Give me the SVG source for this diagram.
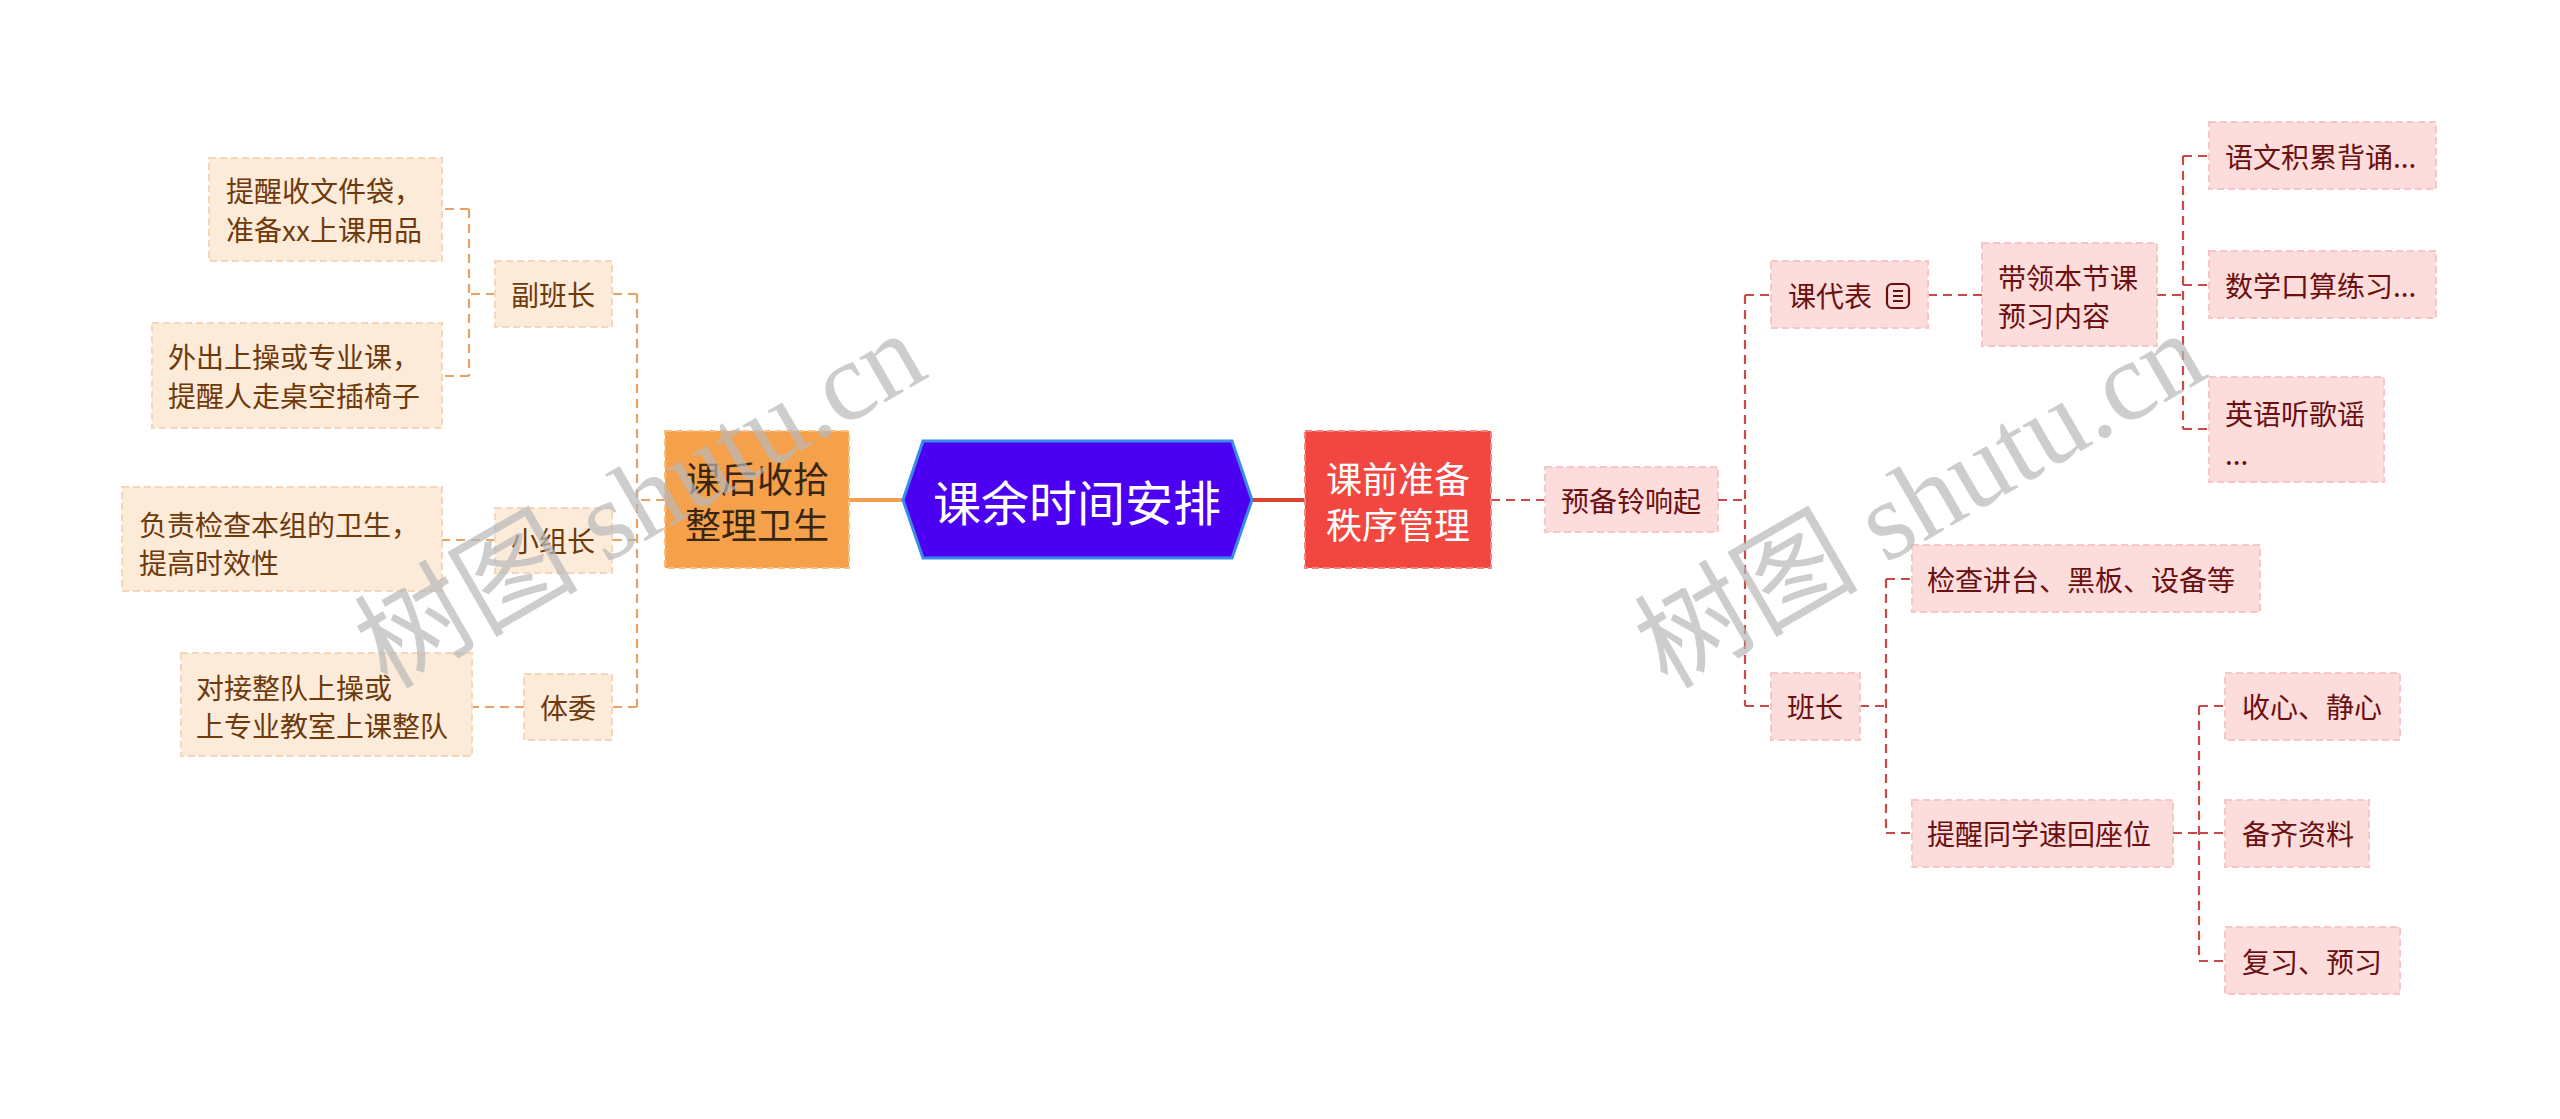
<svg xmlns="http://www.w3.org/2000/svg" width="2560" height="1119" viewBox="0 0 2560 1119">
<style>
text{font-family:"Noto Sans CJK SC","Noto Sans",sans-serif;}
.lbox{fill:#FDEBDA;stroke:#F6D6BA;stroke-width:2;stroke-dasharray:7 4;}
.rbox{fill:#FDDCDC;stroke:#F7C6C6;stroke-width:2;stroke-dasharray:7 4;}
.lt{font-size:28px;fill:#6E3A0C;}
.rt{font-size:28px;fill:#6B1010;}
.c{text-anchor:middle;}
.lc{fill:none;stroke:#E9A263;stroke-width:2.2;stroke-dasharray:9 6;}
.rc{fill:none;stroke:#C94848;stroke-width:2.2;stroke-dasharray:9 6;}
.wm{font-size:112px;fill:#B8B8B8;opacity:0.7;font-family:"Liberation Serif","Noto Sans CJK SC",serif;}
</style>
<g id="connectors">
<path d="M903 500 H849" stroke="#F0A050" stroke-width="4" fill="none"/>
<path d="M1252 500 H1305" stroke="#D9432F" stroke-width="4" fill="none"/>
<path class="lc" d="M665 500 H637 M637 294 V707 M637 294 H612 M637 540 H612 M637 707 H612"/>
<path class="lc" d="M495 294 H469 M469 209 V376 M469 209 H442 M469 376 H442"/>
<path class="lc" d="M495 540 H442"/>
<path class="lc" d="M524 707 H472"/>
<path class="rc" d="M1491 500 H1545"/>
<path class="rc" d="M1718 500 H1745 M1745 295 V706 M1745 295 H1771 M1745 706 H1771"/>
<path class="rc" d="M1928 295 H1982"/>
<path class="rc" d="M2157 295 H2183 M2183 156 V429 M2183 156 H2209 M2183 285 H2209 M2183 429 H2209"/>
<path class="rc" d="M1860 706 H1886 M1886 579 V833 M1886 579 H1912 M1886 833 H1912"/>
<path class="rc" d="M2173 833 H2199 M2199 706 V961 M2199 706 H2225 M2199 833 H2225 M2199 961 H2225"/>
</g>
<g id="root">
<polygon points="903,500 923,441 1232,441 1252,500 1232,558 923,558" fill="#4C00F2" stroke="#3A8BE8" stroke-width="3"/>
<text x="1077" y="500" class="c" dominant-baseline="central" font-size="48" fill="#FFFFFF">课余时间安排</text>
</g>
<g id="n-kehou">
<rect x="665" y="431" width="184" height="137" fill="#F5A14C" stroke="#F8BE82" stroke-width="2" stroke-dasharray="7 4"/>
<text x="757" y="477" class="c" dominant-baseline="central" font-size="36" fill="#3A2510">课后收拾</text>
<text x="757" y="523" class="c" dominant-baseline="central" font-size="36" fill="#3A2510">整理卫生</text>
</g>
<g id="n-fubanzhang">
<rect class="lbox" x="495" y="261" width="117" height="66"/>
<text class="lt c" x="553" y="294" dominant-baseline="central">副班长</text>
</g>
<g id="n-tixing1">
<rect class="lbox" x="209" y="158" width="233" height="103"/>
<text class="lt" x="226" y="190" dominant-baseline="central">提醒收文件袋，</text>
<text class="lt" x="226" y="229" dominant-baseline="central">准备xx上课用品</text>
</g>
<g id="n-waichu">
<rect class="lbox" x="152" y="323" width="290" height="105"/>
<text class="lt" x="168" y="356" dominant-baseline="central">外出上操或专业课，</text>
<text class="lt" x="168" y="395" dominant-baseline="central">提醒人走桌空插椅子</text>
</g>
<g id="n-xiaozuzhang">
<rect class="lbox" x="495" y="508" width="117" height="65"/>
<text class="lt c" x="553" y="540" dominant-baseline="central">小组长</text>
</g>
<g id="n-fuze">
<rect class="lbox" x="122" y="487" width="320" height="104"/>
<text class="lt" x="139" y="524" dominant-baseline="central">负责检查本组的卫生，</text>
<text class="lt" x="139" y="562" dominant-baseline="central">提高时效性</text>
</g>
<g id="n-tiwei">
<rect class="lbox" x="524" y="674" width="88" height="66"/>
<text class="lt c" x="568" y="707" dominant-baseline="central">体委</text>
</g>
<g id="n-duijie">
<rect class="lbox" x="181" y="653" width="291" height="103"/>
<text class="lt" x="196" y="687" dominant-baseline="central">对接整队上操或</text>
<text class="lt" x="196" y="725" dominant-baseline="central">上专业教室上课整队</text>
</g>
<g id="n-keqian">
<rect x="1305" y="431" width="186" height="137" fill="#F24741" stroke="#F7857F" stroke-width="2" stroke-dasharray="7 4"/>
<text x="1398" y="477" class="c" dominant-baseline="central" font-size="36" fill="#FFFFFF">课前准备</text>
<text x="1398" y="523" class="c" dominant-baseline="central" font-size="36" fill="#FFFFFF">秩序管理</text>
</g>
<g id="n-yubeiling">
<rect class="rbox" x="1545" y="467" width="173" height="65"/>
<text class="rt c" x="1631" y="500" dominant-baseline="central">预备铃响起</text>
</g>
<g id="n-kedaibiao">
<rect class="rbox" x="1771" y="261" width="157" height="67"/>
<text class="rt" x="1788" y="295" dominant-baseline="central">课代表</text>
<rect x="1887" y="284" width="22" height="24" rx="5" fill="none" stroke="#6B1010" stroke-width="2.2"/>
<path d="M1893 291 H1903 M1893 296 H1903 M1893 301 H1903" stroke="#6B1010" stroke-width="2"/>
</g>
<g id="n-dailing">
<rect class="rbox" x="1982" y="243" width="175" height="103"/>
<text class="rt" x="1998" y="277" dominant-baseline="central">带领本节课</text>
<text class="rt" x="1998" y="315" dominant-baseline="central">预习内容</text>
</g>
<g id="n-yuwen">
<rect class="rbox" x="2209" y="122" width="227" height="67"/>
<text class="rt" x="2225" y="156" dominant-baseline="central">语文积累背诵...</text>
</g>
<g id="n-shuxue">
<rect class="rbox" x="2209" y="251" width="227" height="67"/>
<text class="rt" x="2225" y="285" dominant-baseline="central">数学口算练习...</text>
</g>
<g id="n-yingyu">
<rect class="rbox" x="2209" y="377" width="175" height="105"/>
<text class="rt" x="2225" y="413" dominant-baseline="central">英语听歌谣</text>
<text class="rt" x="2225" y="453" dominant-baseline="central">...</text>
</g>
<g id="n-banzhang">
<rect class="rbox" x="1771" y="673" width="89" height="67"/>
<text class="rt c" x="1815" y="706" dominant-baseline="central">班长</text>
</g>
<g id="n-jiancha">
<rect class="rbox" x="1912" y="545" width="348" height="67"/>
<text class="rt" x="1927" y="579" dominant-baseline="central">检查讲台、黑板、设备等</text>
</g>
<g id="n-tixingtongxue">
<rect class="rbox" x="1912" y="800" width="261" height="67"/>
<text class="rt" x="1927" y="833" dominant-baseline="central">提醒同学速回座位</text>
</g>
<g id="n-shouxin">
<rect class="rbox" x="2225" y="673" width="175" height="67"/>
<text class="rt" x="2242" y="706" dominant-baseline="central">收心、静心</text>
</g>
<g id="n-beiqi">
<rect class="rbox" x="2225" y="800" width="144" height="67"/>
<text class="rt" x="2242" y="833" dominant-baseline="central">备齐资料</text>
</g>
<g id="n-fuxi">
<rect class="rbox" x="2225" y="927" width="175" height="67"/>
<text class="rt" x="2242" y="961" dominant-baseline="central">复习、预习</text>
</g>
<g id="watermarks">
<text class="wm" text-anchor="middle" transform="translate(640 500) rotate(-30)" dominant-baseline="central">树图 shutu.cn</text>
<text class="wm" text-anchor="middle" transform="translate(1920 500) rotate(-30)" dominant-baseline="central">树图 shutu.cn</text>
</g>
</svg>
